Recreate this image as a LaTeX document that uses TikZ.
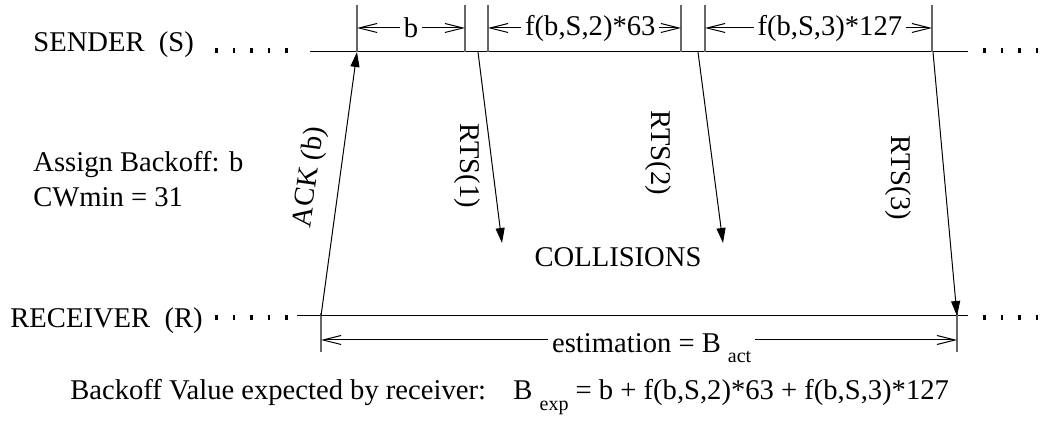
\documentclass[tikz,border=0pt]{standalone}
\usepackage{fontspec}
\setmainfont{Liberation Serif}
\usepackage{tikz}
\usetikzlibrary{arrows.meta,positioning}

\begin{document}
\begin{tikzpicture}[
    x=0.5pt, y=-0.5pt,
    font=\fontsize{14.3}{17}\selectfont,
    line/.style={line width=0.5pt},
    msg/.style={line width=0.5pt, -{Triangle[length=7.5pt, width=4.5pt]}},
    dim/.style={line width=0.5pt, {Straight Barb[length=9pt, width=4.5pt]}-{Straight Barb[length=9pt, width=4.5pt]}},
    tick/.style={line width=0.7pt, black!60},
    dots/.style={line width=2.5pt, dash pattern=on 1.3pt off 7.45pt},
    lbl/.style={fill=white, inner sep=2pt},
    txt/.style={anchor=base west, inner sep=0pt}
]
\useasboundingbox (0,0) rectangle (1054,421);

% Time lines
\node[txt] (sender) at (33,52) {SENDER~~(S)};
\node[txt] (receiver) at (10,328) {RECEIVER~~(R)};
\coordinate (s0) at (310,52);
\coordinate (s1) at (968,52);
\coordinate (r0) at (297,316);
\coordinate (r1) at (968,316);
\draw[line] (s0) -- (s1);
\draw[line] (r0) -- (r1);

% Dots before and after
\coordinate (sdl) at (215,51);
\coordinate (sdr) at (983,51);
\coordinate (rdl) at (215,317.5);
\coordinate (rdr) at (983,317.5);
\draw[dots] (sdl) -- ++(73,0);
\draw[dots] (sdr) -- ++(63,0);
\draw[dots] (rdl) -- ++(73,0);
\draw[dots] (rdr) -- ++(63,0);

% Backoff intervals at the sender
\foreach \x/\n in {357/t1, 465/t2, 488/t3, 681/t4, 705/t5, 932/t6} {
    \coordinate (\n) at (\x,28);
    \draw[tick] (\x,5) -- (\x,52);
}
\draw[dim] (t1) -- node[lbl] {b} (t2);
\draw[dim] (t3) -- node[lbl, pos=0.53] {f(b,S,2)*63} (t4);
\draw[dim] (t5) -- node[lbl, pos=0.55] {f(b,S,3)*127} (t6);

% Estimation at the receiver
\foreach \x/\n in {321/e1, 957/e2} {
    \coordinate (\n) at (\x,340);
    \draw[tick] (\x,313) -- (\x,352);
}
\draw[dim] (e1) -- node[lbl, pos=0.52, yshift=-4pt] {estimation = B \raisebox{-0.35em}{\fontsize{10}{12}\selectfont act}} (e2);

% Messages
\coordinate (ackR) at (321,316);
\coordinate (ackS) at (357,52);
\draw[msg] (ackR) -- node[sloped, above=8pt, inner sep=0pt, pos=0.51] (acklbl) {ACK (b)} (ackS);

\coordinate (rts1S) at (478,52);
\coordinate (rts1E) at (502,243);
\draw[msg] (rts1S) -- (rts1E);
\node[rotate=-90] (rts1) at (467,166) {RTS(1)};

\coordinate (rts2S) at (698,52);
\coordinate (rts2E) at (723,243);
\draw[msg] (rts2S) -- (rts2E);
\node[rotate=-90] (rts2) at (658,153) {RTS(2)};

\coordinate (rts3S) at (933,52);
\coordinate (rts3E) at (957,316);
\draw[msg] (rts3S) -- (rts3E);
\node[rotate=-90] (rts3) at (898,178) {RTS(3)};

\node[anchor=base] (collisions) at (618,267) {COLLISIONS};

% Notes
\node[txt] (assign) at (33,172) {Assign Backoff: b};
\node[txt] (cwmin) at (33,207) {CWmin = 31};
\node[txt] (expected) at (70,400) {Backoff Value expected by receiver:};
\node[txt] (bexp) at (513,400) {B \raisebox{-0.35em}{\fontsize{10}{12}\selectfont exp} = b + f(b,S,2)*63 + f(b,S,3)*127};

\end{tikzpicture}
\end{document}
